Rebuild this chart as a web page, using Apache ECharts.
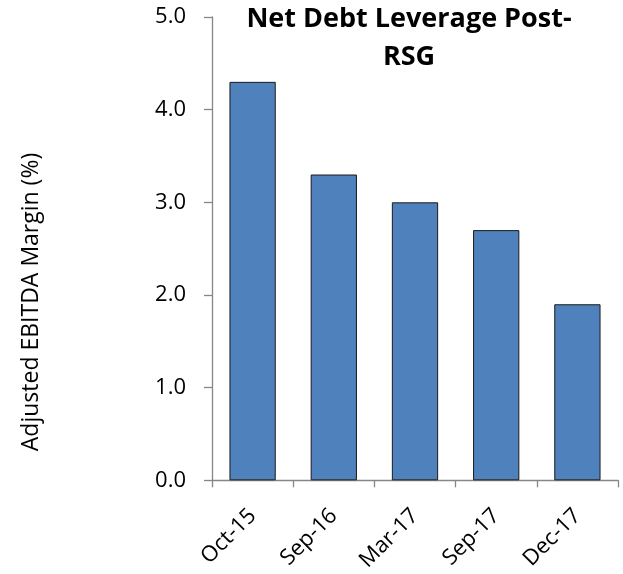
<!DOCTYPE html>
<html>
<head>
<meta charset="utf-8">
<script src="https://cdn.jsdelivr.net/npm/echarts@6/dist/echarts.min.js"></script>
<style>
  html, body { margin: 0; padding: 0; background: #fff; }
  #chart { width: 623px; height: 574px; }
</style>
</head>
<body>
<div id="chart"></div>
<script>
// Net debt leverage by reporting date
const categories = ['Oct-15', 'Sep-16', 'Mar-17', 'Sep-17', 'Dec-17'];
const leverage = [4.3, 3.3, 3.0, 2.7, 1.9];
const yTicks = { min: 0, max: 5, interval: 1 };

const font = '"Open Sans", "Noto Sans", sans-serif';
const axisGray = '#868686';

const chart = echarts.init(document.getElementById('chart'));
chart.setOption({
  animation: false,
  backgroundColor: '#ffffff',
  title: {
    text: 'Net Debt Leverage Post-\nRSG',
    left: 404,
    top: -5,
    textAlign: 'center',
    textStyle: { fontFamily: font, fontSize: 27, fontWeight: 'bold', color: '#000', lineHeight: 38 }
  },
  graphic: [{
    type: 'text',
    x: 31,
    y: 302,
    rotation: Math.PI / 2,
    style: {
      text: 'Adjusted EBITDA Margin (%)',
      fontFamily: font,
      fontSize: 23,
      fill: '#000',
      textAlign: 'center',
      textVerticalAlign: 'middle'
    }
  }],
  grid: { left: 212, right: 5, top: 17, bottom: 92, containLabel: false },
  xAxis: {
    type: 'category',
    data: categories,
    axisLine: { lineStyle: { color: axisGray, width: 1.3 } },
    axisTick: { show: true, length: 7, lineStyle: { color: axisGray, width: 1.3 } },
    axisLabel: { rotate: 45, margin: 32, fontFamily: font, fontSize: 22, color: '#000' }
  },
  yAxis: {
    type: 'value',
    min: yTicks.min,
    max: yTicks.max,
    interval: yTicks.interval,
    axisLine: { show: true, lineStyle: { color: axisGray, width: 1.3 } },
    axisTick: { show: true, length: 8, lineStyle: { color: axisGray, width: 1.3 } },
    splitLine: { show: false },
    axisLabel: {
      margin: 26,
      fontFamily: font,
      fontSize: 22,
      color: '#000',
      formatter: v => v.toFixed(1)
    }
  },
  series: [{
    type: 'bar',
    data: leverage,
    barCategoryGap: '43%',
    itemStyle: { color: '#4F81BD', borderColor: '#1a1a1a', borderWidth: 1 }
  }]
});
</script>
</body>
</html>
